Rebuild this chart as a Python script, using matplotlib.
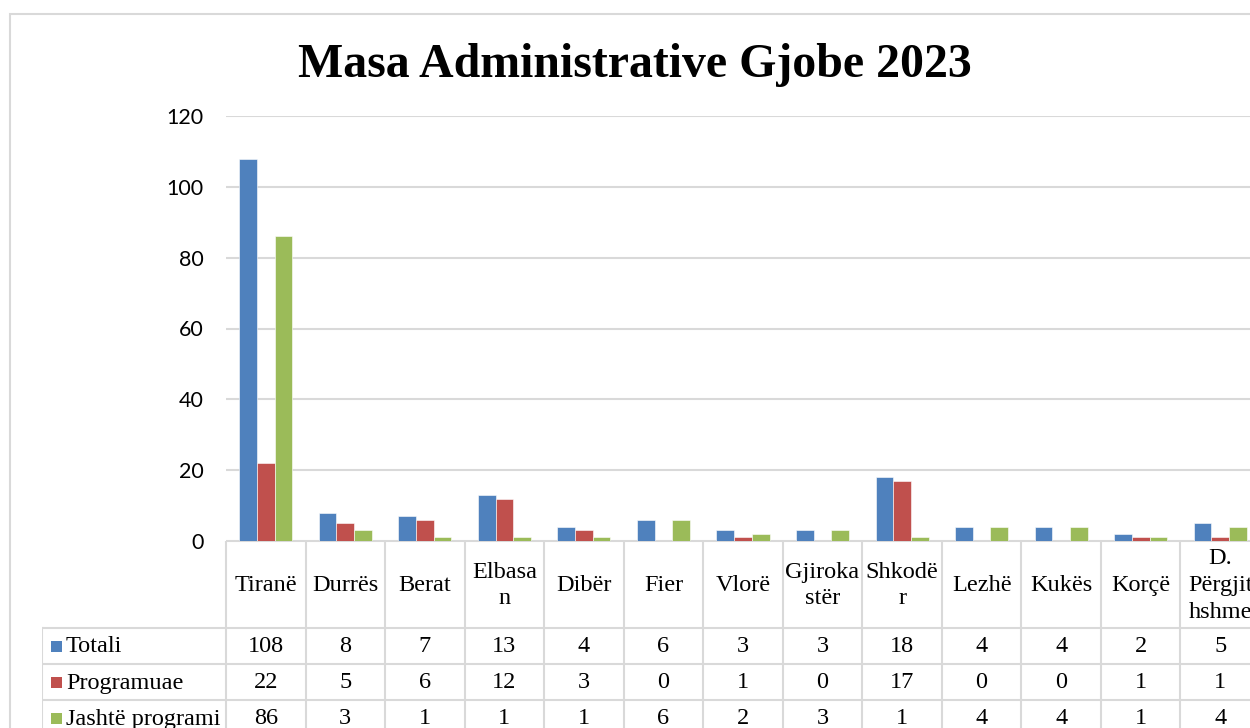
import matplotlib
matplotlib.use("Agg")
import matplotlib.pyplot as plt
from matplotlib.patches import Rectangle
import numpy as np

categories = ["Tiranë", "Durrës", "Berat", "Elbasa\nn", "Dibër", "Fier", "Vlorë",
              "Gjiroka\nstër", "Shkodë\nr", "Lezhë", "Kukës", "Korçë", "D.\nPërgjit\nhshme"]
series_names = ["Totali", "Programuae", "Jashtë programi"]
totali = [108, 8, 7, 13, 4, 6, 3, 3, 18, 4, 4, 2, 5]
programuae = [22, 5, 6, 12, 3, 0, 1, 0, 17, 0, 0, 1, 1]
jashte = [86, 3, 1, 1, 1, 6, 2, 3, 1, 4, 4, 1, 4]
yticks = [0, 20, 40, 60, 80, 100, 120]
title = "Masa Administrative Gjobe 2023"

colors = ["#4F81BD", "#C0504D", "#9BBB59"]
grid_c = "#D9D9D9"
W, H = 1250, 728
fig = plt.figure(figsize=(W / 100, H / 100), dpi=100)

# outer chart frame
fig.add_artist(Rectangle((10 / W, -0.2), 2, (H - 14) / H + 0.2, transform=fig.transFigure,
                         fill=False, ec=grid_c, lw=1.5))

# bar axes
ax_l, ax_r, ax_t, ax_b = 226, 1260, 116, 541
ax = fig.add_axes([ax_l / W, (H - ax_b) / H, (ax_r - ax_l) / W, (ax_b - ax_t) / H])
n = len(categories)
x = np.arange(n)
bw = 0.2227
for i, (vals, c) in enumerate(zip([totali, programuae, jashte], colors)):
    ax.bar(x + (i - 1) * bw, vals, width=bw, color=c, edgecolor="white", linewidth=0.4, zorder=3)
ax.set_xlim(-0.5, n - 0.5)
ax.set_ylim(0, 120)
ax.set_yticks(yticks)
ax.set_xticks([])
ax.yaxis.grid(True, color=grid_c, lw=1.5, zorder=0)
for s in ax.spines.values():
    s.set_visible(False)
ax.tick_params(axis="y", length=0, pad=16, labelsize=15.5)
for lab in ax.get_yticklabels():
    lab.set_family(["Lato", "DejaVu Sans"])
ax.set_facecolor("none")

# title
fig.text(635 / W, 1 - 65 / H, title, ha="center", va="center",
         family="Liberation Serif", fontweight="bold", fontsize=34.5)

# data table
tb_l, tb_b = 42, 736
tax = fig.add_axes([tb_l / W, (H - tb_b) / H, (ax_r - tb_l) / W, (tb_b - ax_b) / H])
cat_px = (ax_r - ax_l) / n
x0 = -0.5 - (ax_l - tb_l) / cat_px
tax.set_xlim(x0, n - 0.5)
tax.set_ylim(tb_b - ax_b, 0)
tax.axis("off")
tax.set_facecolor("none")
hdr = 87
rh = 36
lc = grid_c
lw = 1.5
# horizontal lines
tax.plot([-0.5, n - 0.5], [0, 0], color=lc, lw=lw)
for r in range(3):
    yv = hdr + r * rh
    tax.plot([x0, n - 0.5], [yv, yv], color=lc, lw=lw)
# vertical lines
for k in range(n + 1):
    tax.plot([k - 0.5, k - 0.5], [0, tb_b - ax_b], color=lc, lw=lw)
tax.plot([x0, x0], [hdr, tb_b - ax_b], color=lc, lw=lw)

tfont = dict(family="Liberation Serif", fontsize=17.5)
for k, cat in enumerate(categories):
    tax.text(k, hdr / 2 + 1, cat, ha="center", va="center", linespacing=1.35, **tfont)
for r, (name, vals, c) in enumerate(zip(series_names, [totali, programuae, jashte], colors)):
    yc = hdr + r * rh + rh / 2
    for k, v in enumerate(vals):
        tax.text(k, yc + 1, str(v), ha="center", va="center", **tfont)
    # legend key
    tax.add_patch(Rectangle((x0 + 9 / cat_px, yc - 5), 11 / cat_px, 11, color=c, lw=0))
    tax.text(x0 + 24 / cat_px, yc + 1, name, ha="left", va="center", **tfont)

fig.savefig("out.png", dpi=100, facecolor="white")
